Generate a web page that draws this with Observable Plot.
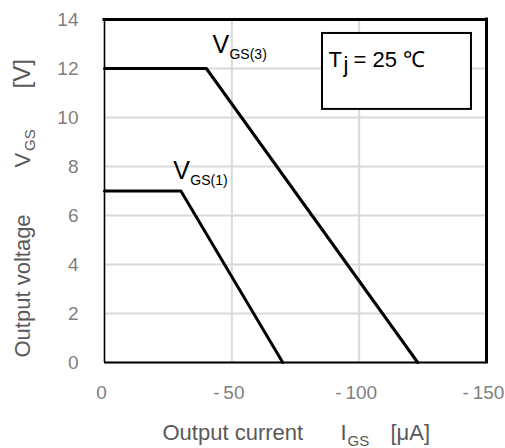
<!DOCTYPE html>
<html>
<head>
<meta charset="utf-8">
<script src="https://cdn.jsdelivr.net/npm/d3@7"></script>
<script src="https://cdn.jsdelivr.net/npm/@observablehq/plot@0.6"></script>
<style>
  html, body { margin: 0; padding: 0; background: #fff; }
</style>
</head>
<body>
<div id="chart"></div>
<script>
// ---- data ----
const seriesNames = ["VGS(1)", "VGS(3)"];
const currentVGS1 = [0, -30, -70];     // µA
const voltageVGS1 = [7, 7, 0];         // V
const currentVGS3 = [0, -40, -123];    // µA
const voltageVGS3 = [12, 12, 0];       // V

const labelMain = ["V", "V"];
const labelSub = ["GS(1)", "GS(3)"];
const labelCurrent = [-27, -42.4];
const labelVoltage = [7.5, 12.65];

const xTicks = [0, -50, -100, -150];
const yTicks = [0, 2, 4, 6, 8, 10, 12, 14];

const boxCurrent = [-85.6, -144.1];
const boxVoltage = [10.33, 13.43];
const tempParts = ["T", "j", "= 25 ℃"];
const tempCurrent = -88;
const tempVoltage = 12.08;

const xTitleParts = ["Output current", "I", "GS", "[μA]"];
const yTitleParts = ["Output voltage", "V", "GS", "[V]"];

// ---- build tables ----
const rows = [
  ...currentVGS1.map((c, i) => ({series: seriesNames[0], current: c, voltage: voltageVGS1[i]})),
  ...currentVGS3.map((c, i) => ({series: seriesNames[1], current: c, voltage: voltageVGS3[i]}))
];
const labels = labelMain.map((m, i) => ({main: m, sub: labelSub[i], current: labelCurrent[i], voltage: labelVoltage[i]}));
const box = [{x1: boxCurrent[0], x2: boxCurrent[1], y1: boxVoltage[0], y2: boxVoltage[1]}];
const tempAnchor = [{current: tempCurrent, voltage: tempVoltage}];

const font = "Liberation Sans, Arial, sans-serif";
const titleColor = "#595959";
const tickColor = "#7f7f7f";

const chart = Plot.plot({
  width: 505,
  height: 448,
  marginLeft: 104,
  marginRight: 19,
  marginTop: 19,
  marginBottom: 86,
  style: {fontFamily: font, fontSize: "19px", color: tickColor, background: "white", overflow: "visible"},
  x: {domain: [0, -150]},
  y: {domain: [0, 14]},
  marks: [
    Plot.gridX(xTicks, {stroke: "#d9d9d9", strokeWidth: 2, strokeOpacity: 1}),
    Plot.gridY(yTicks, {stroke: "#d9d9d9", strokeWidth: 2, strokeOpacity: 1}),
    Plot.axisX({ticks: xTicks, tickSize: 0, tickPadding: 23, label: null, dx: -3,
      tickFormat: d => d === 0 ? "0" : "-\u2009" + Math.abs(d), fontSize: 19, fill: tickColor}),
    Plot.axisY({ticks: yTicks, tickSize: 0, tickPadding: 26, label: null, fontSize: 19, fill: tickColor}),
    Plot.ruleX([0], {stroke: "#000", strokeWidth: 1.5}),
    Plot.ruleY([0], {stroke: "#000", strokeWidth: 2}),
    Plot.ruleY([14], {stroke: "#000", strokeWidth: 3, strokeLinecap: "square"}),
    Plot.ruleX([-150], {stroke: "#000", strokeWidth: 3, strokeLinecap: "square"}),
    Plot.line(rows, {x: "current", y: "voltage", z: "series", stroke: "#000", strokeWidth: 3}),
    // series labels
    Plot.text(labels, {x: "current", y: "voltage", text: "main", textAnchor: "start", lineAnchor: "bottom",
      fontSize: 25, fill: "#000", fontFamily: font}),
    Plot.text(labels, {x: "current", y: "voltage", text: "sub", textAnchor: "start", lineAnchor: "bottom",
      dx: 17, dy: 6, fontSize: 14, fill: "#000", fontFamily: font}),
    // temperature box
    Plot.rect(box, {x1: "x1", x2: "x2", y1: "y1", y2: "y2", fill: "white", stroke: "#000", strokeWidth: 2}),
    Plot.text(tempAnchor, {x: "current", y: "voltage", text: () => tempParts[0], textAnchor: "start", lineAnchor: "bottom",
      fontSize: 22, fill: "#000", fontFamily: font}),
    Plot.text(tempAnchor, {x: "current", y: "voltage", text: () => tempParts[1], textAnchor: "start", lineAnchor: "bottom",
      dx: 15, dy: 5, fontSize: 22, fill: "#000", fontFamily: font}),
    Plot.text(tempAnchor, {x: "current", y: "voltage", text: () => tempParts[2], textAnchor: "start", lineAnchor: "bottom",
      dx: 25, fontSize: 22, fill: "#000", fontFamily: font}),
    // x axis title
    Plot.text([xTitleParts[0]], {frameAnchor: "bottom-left", textAnchor: "start", lineAnchor: "bottom", dx: 58, dy: 77, fontSize: 22, fill: titleColor, fontFamily: font}),
    Plot.text([xTitleParts[1]], {frameAnchor: "bottom-left", textAnchor: "start", lineAnchor: "bottom", dx: 236, dy: 77, fontSize: 22, fill: titleColor, fontFamily: font}),
    Plot.text([xTitleParts[2]], {frameAnchor: "bottom-left", textAnchor: "start", lineAnchor: "bottom", dx: 243, dy: 83, fontSize: 15, fill: titleColor, fontFamily: font}),
    Plot.text([xTitleParts[3]], {frameAnchor: "bottom-left", textAnchor: "start", lineAnchor: "bottom", dx: 286, dy: 77, fontSize: 22, fill: titleColor, fontFamily: font}),
    // y axis title (rotated)
    Plot.text([yTitleParts[0]], {frameAnchor: "left", rotate: -90, textAnchor: "start", lineAnchor: "bottom", dx: -75, dy: 166.5, fontSize: 22, fill: titleColor, fontFamily: font}),
    Plot.text([yTitleParts[1]], {frameAnchor: "left", rotate: -90, textAnchor: "start", lineAnchor: "bottom", dx: -75, dy: -23.5, fontSize: 22, fill: titleColor, fontFamily: font}),
    Plot.text([yTitleParts[2]], {frameAnchor: "left", rotate: -90, textAnchor: "start", lineAnchor: "bottom", dx: -70, dy: -40, fontSize: 15, fill: titleColor, fontFamily: font}),
    Plot.text([yTitleParts[3]], {frameAnchor: "left", rotate: -90, textAnchor: "start", lineAnchor: "bottom", dx: -75, dy: -102.5, fontSize: 24, fill: titleColor, fontFamily: font})
  ]
});
document.getElementById("chart").appendChild(chart);
</script>
</body>
</html>
